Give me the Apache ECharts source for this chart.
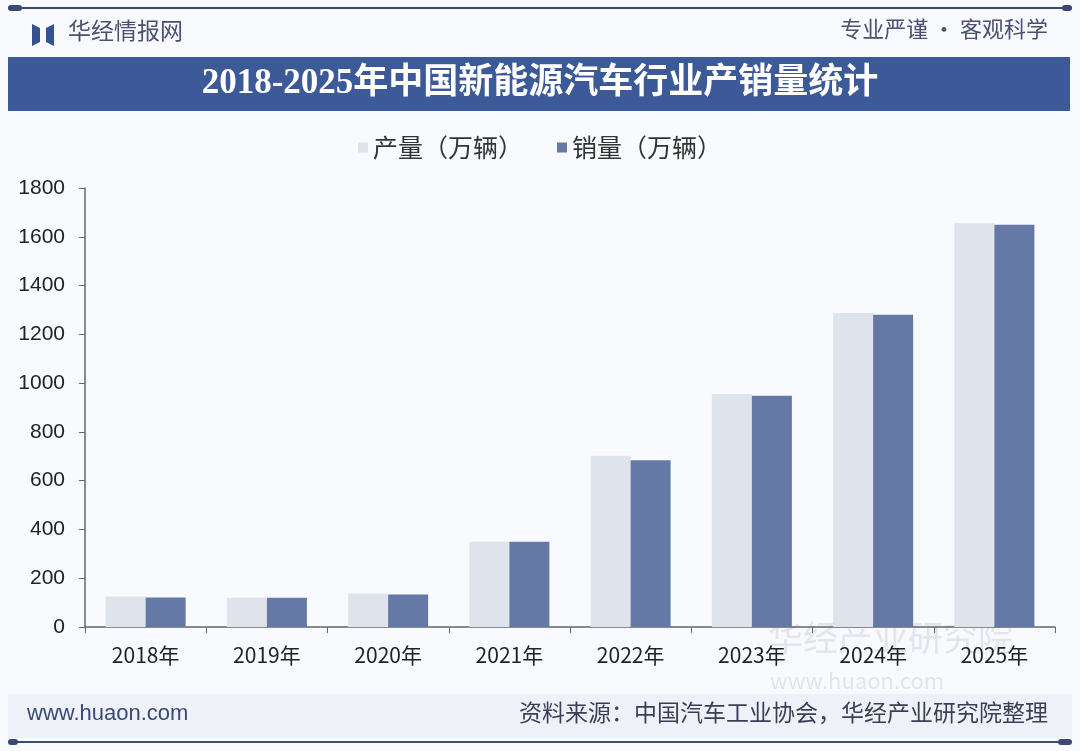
<!DOCTYPE html>
<html>
<head>
<meta charset="utf-8">
<script src="https://cdn.jsdelivr.net/npm/echarts@6/dist/echarts.min.js"></script>
<style>
  html, body { margin: 0; padding: 0; background: #f8fafd; }
  #main { width: 1080px; height: 751px; }
</style>
</head>
<body>
<div id="main"></div>
<script>
const years = ['2018年', '2019年', '2020年', '2021年', '2022年', '2023年', '2024年', '2025年']
const production = [125, 120, 137, 350, 702, 955, 1287, 1655]
const sales = [121, 120, 133, 350, 684, 948, 1280, 1649]
const yTicks = { min: 0, max: 1800, interval: 200 }

const cjk = '"Noto Sans CJK SC", "Liberation Sans", sans-serif'
const navy = '#3b4a74'

const chart = echarts.init(document.getElementById('main'))

chart.setOption({
  backgroundColor: '#f8fafd',
  animation: false,
  textStyle: { fontFamily: cjk },
  graphic: [
    // top rule
    { type: 'rect', shape: { x: 8, y: 7, width: 1064, height: 2 }, style: { fill: navy } },
    { type: 'rect', shape: { x: 8, y: 5, width: 14, height: 6, r: 3 }, style: { fill: navy } },
    { type: 'rect', shape: { x: 1062, y: 5, width: 10, height: 6, r: 3 }, style: { fill: navy } },
    // logo
    { type: 'polygon', shape: { points: [[32, 24], [40, 28], [40, 42], [32, 46]] }, style: { fill: '#34528f' } },
    { type: 'polygon', shape: { points: [[54, 24], [46, 28], [46, 42], [54, 46]] }, style: { fill: '#34528f' } },
    { type: 'text', left: 68, top: 19, style: { text: '华经情报网', fontSize: 23, fill: '#4a5170', fontFamily: cjk } },
    { type: 'text', right: 32, top: 18, style: { text: '专业严谨 • 客观科学', fontSize: 22, fill: '#4a5170', fontFamily: cjk } },
    // title banner
    { type: 'rect', shape: { x: 8, y: 57, width: 1062, height: 54 }, style: { fill: '#3d5a98' } },
    {
      type: 'text', left: 'center', top: 66,
      style: {
        text: '2018-2025年中国新能源汽车行业产销量统计', fontSize: 35, fontWeight: 'bold',
        fill: '#ffffff', fontFamily: '"Liberation Serif", "Noto Sans CJK SC", serif'
      }
    },
    // watermark
    { type: 'text', left: 768, top: 620, style: { text: '华经产业研究院', fontSize: 35, fill: 'rgba(200,205,215,0.45)', fontFamily: cjk } },
    { type: 'text', left: 770, top: 670, style: { text: 'www.huaon.com', fontSize: 22, fill: 'rgba(200,205,215,0.45)', fontFamily: cjk, letterSpacing: 4 } },
    // footer band
    { type: 'rect', shape: { x: 8, y: 694, width: 1064, height: 44 }, style: { fill: '#eef1f7' } },
    { type: 'text', left: 27, top: 703, style: { text: 'www.huaon.com', fontSize: 22, fill: navy, fontFamily: '"Liberation Sans", sans-serif' } },
    { type: 'text', right: 32, top: 701, style: { text: '资料来源：中国汽车工业协会，华经产业研究院整理', fontSize: 23, fill: '#3b3f55', fontFamily: cjk } },
    // bottom rule
    { type: 'rect', shape: { x: 8, y: 741, width: 1064, height: 2 }, style: { fill: navy } },
    { type: 'rect', shape: { x: 8, y: 739, width: 10, height: 6, r: 3 }, style: { fill: navy } },
    { type: 'rect', shape: { x: 1058, y: 739, width: 14, height: 6, r: 3 }, style: { fill: navy } }
  ],
  legend: {
    top: 130,
    left: 'center',
    itemWidth: 10,
    itemHeight: 10,
    itemGap: 34,
    icon: 'rect',
    textStyle: { fontSize: 25, color: '#333', fontFamily: cjk },
    data: ['产量（万辆）', '销量（万辆）']
  },
  grid: { left: 85, right: 25, top: 188, bottom: 124, containLabel: false },
  xAxis: {
    type: 'category',
    data: years,
    axisLine: { lineStyle: { color: '#666', width: 1.5 } },
    axisTick: { show: true, alignWithLabel: false, length: 6, lineStyle: { color: '#666' } },
    axisLabel: { fontSize: 21, color: '#222', margin: 18, fontFamily: cjk }
  },
  yAxis: {
    type: 'value',
    min: yTicks.min,
    max: yTicks.max,
    interval: yTicks.interval,
    axisLine: { show: true, lineStyle: { color: '#666', width: 1.5 } },
    axisTick: { show: true, length: 6, lineStyle: { color: '#666' } },
    splitLine: { show: false },
    axisLabel: {
      fontSize: 21,
      color: '#222',
      margin: 20,
      fontFamily: '"Liberation Sans", sans-serif',
      formatter: v => String(v)
    }
  },
  series: [
    {
      name: '产量（万辆）',
      type: 'bar',
      data: production,
      barWidth: 40,
      barGap: '0%',
      itemStyle: { color: '#dfe3eb' }
    },
    {
      name: '销量（万辆）',
      type: 'bar',
      data: sales,
      barWidth: 40,
      barGap: '0%',
      itemStyle: { color: '#6479a6' }
    }
  ]
})
</script>
</body>
</html>
